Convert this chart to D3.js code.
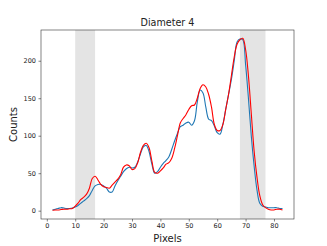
<!DOCTYPE html>
<html>
<head>
<meta charset="utf-8">
<script src="https://cdn.jsdelivr.net/npm/d3@7"></script>
<style>
  body { margin: 0; background: #fff; }
  svg { display: block; font-family: "DejaVu Sans", sans-serif; }
</style>
</head>
<body>
<div id="chart"></div>
<script>
// x positions (pixels 2..83)
const pixels = d3.range(2, 84);

// blue series
const blueCounts = [
  1, 2, 3, 4, 3.5, 3, 3, 3.5, 5, 7,
  10, 13, 16, 20, 27, 33, 35, 35, 33, 30,
  25, 25, 33, 40, 46, 52, 56, 58, 57, 58,
  65, 76, 85, 87, 79, 62, 50, 52, 58, 63,
  67, 72, 82, 93, 103, 112, 114, 117, 118, 114,
  120, 145, 161, 157, 138, 122, 120, 113, 104, 102,
  115, 135, 155, 175, 200, 225, 229, 228, 195, 150,
  100, 60, 28, 10, 6, 5, 4, 4, 4, 4,
  3, 3
];

// red series
const redCounts = [
  0.5, 1, 1, 1.5, 2, 2, 2.5, 3, 6, 10,
  15, 18, 22, 30, 43, 46, 41, 35, 32, 31,
  30, 34, 38, 42, 48, 58, 61, 60, 55, 56,
  64, 78, 87, 90, 84, 66, 51, 50, 53, 57,
  62, 64, 70, 83, 100, 117, 123, 128, 135, 140,
  141, 150, 163, 168, 165, 155, 138, 115, 107, 107,
  115, 135, 155, 180, 205, 222, 228, 230, 215, 180,
  130, 80, 45, 20, 8, 4, 2, 1, 1, 2,
  2, 1
];

// shaded regions
const spans = [[10, 17], [68, 77]];

const xTicks = [0, 10, 20, 30, 40, 50, 60, 70, 80];
const yTicks = [0, 50, 100, 150, 200];

const width = 327, height = 246;
const margin = { left: 41, right: 33, top: 30, bottom: 27 };

const svg = d3.select("#chart").append("svg")
  .attr("width", width)
  .attr("height", height);

const x = d3.scaleLinear().domain([-2.05, 87.05])
  .range([margin.left, width - margin.right]);
const y = d3.scaleLinear().domain([-11.1, 241])
  .range([height - margin.bottom, margin.top]);

// grey bands
svg.selectAll(".span")
  .data(spans)
  .enter()
  .append("rect")
  .attr("class", "span")
  .attr("x", d => x(d[0]))
  .attr("width", d => x(d[1]) - x(d[0]))
  .attr("y", margin.top)
  .attr("height", height - margin.bottom - margin.top)
  .attr("fill", "#e4e4e4");

const line = d3.line()
  .x((d, i) => x(pixels[i]))
  .y(d => y(d))
  .curve(d3.curveCatmullRom);

svg.append("path")
  .datum(blueCounts)
  .attr("fill", "none")
  .attr("stroke", "#1f77b4")
  .attr("stroke-width", 1.1)
  .attr("d", line);

svg.append("path")
  .datum(redCounts)
  .attr("fill", "none")
  .attr("stroke", "red")
  .attr("stroke-width", 1.1)
  .attr("d", line);

// axes
const xAxis = svg.append("g")
  .attr("transform", `translate(0,${height - margin.bottom})`)
  .call(d3.axisBottom(x).tickValues(xTicks).tickSize(2.5).tickPadding(2));
const yAxis = svg.append("g")
  .attr("transform", `translate(${margin.left},0)`)
  .call(d3.axisLeft(y).tickValues(yTicks).tickSize(2.5).tickPadding(2.5));

[xAxis, yAxis].forEach(g => {
  g.select(".domain").remove();
  g.selectAll("line").attr("stroke", "#333").attr("stroke-width", 0.6);
  g.selectAll("text")
    .attr("fill", "#222")
    .style("font-size", "6.5px")
    .style("font-family", "DejaVu Sans");
});

// frame
svg.append("rect")
  .attr("x", margin.left)
  .attr("y", margin.top)
  .attr("width", width - margin.left - margin.right)
  .attr("height", height - margin.top - margin.bottom)
  .attr("fill", "none")
  .attr("stroke", "#333")
  .attr("stroke-width", 0.6);

// labels
svg.append("text")
  .attr("x", (margin.left + width - margin.right) / 2)
  .attr("y", 26)
  .attr("text-anchor", "middle")
  .style("font-size", "9.6px")
  .attr("fill", "#222")
  .text("Diameter 4");

svg.append("text")
  .attr("x", (margin.left + width - margin.right) / 2)
  .attr("y", 241.5)
  .attr("text-anchor", "middle")
  .style("font-size", "10px")
  .attr("fill", "#222")
  .text("Pixels");

svg.append("text")
  .attr("transform", `translate(17,${(margin.top + height - margin.bottom) / 2}) rotate(-90)`)
  .attr("text-anchor", "middle")
  .style("font-size", "10px")
  .attr("fill", "#222")
  .text("Counts");
</script>
</body>
</html>
